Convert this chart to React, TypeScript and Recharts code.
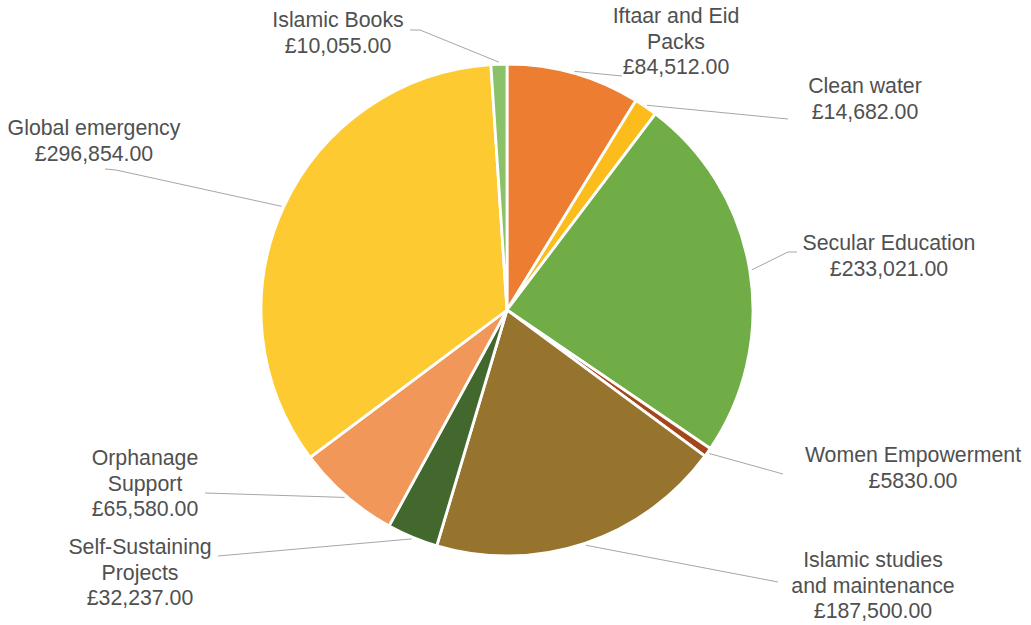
import React from 'react';
import { PieChart, Pie, Cell } from 'recharts';

// slices run clockwise from 12 o'clock
const categories = [
  'Iftaar and Eid\nPacks',
  'Clean water',
  'Secular Education',
  'Women Empowerment',
  'Islamic studies\nand maintenance',
  'Self-Sustaining\nProjects',
  'Orphanage\nSupport',
  'Global emergency',
  'Islamic Books',
];

// plotted amounts (global emergency slice is drawn larger than its printed label)
const amounts = [84512, 14682, 233021, 5830, 187500, 32237, 65580, 329000, 10055];

// amounts as printed on the chart
const amountLabels = [
  '£84,512.00',
  '£14,682.00',
  '£233,021.00',
  '£5830.00',
  '£187,500.00',
  '£32,237.00',
  '£65,580.00',
  '£296,854.00',
  '£10,055.00',
];

const colors = [
  '#ED7D31',
  '#FBBC1C',
  '#70AD47',
  '#A5461A',
  '#97742E',
  '#43682E',
  '#F1975A',
  '#FDCA31',
  '#8BC168',
];

// where each label sits and how its leader line bends (line starts at the slice edge)
const labelLayout = [
  { x: 676, y: 16, path: [[622, 76]] },
  { x: 865, y: 86, path: [[788, 119]] },
  { x: 889, y: 243, path: [[788, 252], [797, 252]] },
  { x: 913, y: 455, path: [[783, 474]] },
  { x: 873, y: 560, path: [[778, 582]] },
  { x: 140, y: 547, path: [[218, 556]] },
  { x: 145, y: 458, path: [[205, 493]] },
  { x: 94, y: 128, path: [[116, 170], [105, 169]] },
  { x: 338, y: 20, path: [[420, 30], [410, 30]] },
];

const data = categories.map((name, i) => ({ name, value: amounts[i], label: amountLabels[i] }));

const RAD = Math.PI / 180;
const LINE_H = 25.5;

const renderLabel = (props: any) => {
  const { cx, cy, midAngle, outerRadius, index } = props;
  const layout = labelLayout[index];
  const r = outerRadius + 2;
  const sx = cx + r * Math.cos(-midAngle * RAD);
  const sy = cy + r * Math.sin(-midAngle * RAD);
  const pts = [[sx, sy], ...layout.path];
  const lines = [...categories[index].split('\n'), amountLabels[index]];
  return (
    <g>
      <polyline
        points={pts.map((p) => p.join(',')).join(' ')}
        fill="none"
        stroke="#A6A6A6"
        strokeWidth={1}
      />
      <text
        x={layout.x}
        y={layout.y}
        textAnchor="middle"
        fill="#505050"
        fontSize={21.3}
        fontFamily="'Liberation Sans', Arial, sans-serif"
      >
        {lines.map((t, j) => (
          <tspan key={j} x={layout.x} y={layout.y + j * LINE_H} dominantBaseline="central">
            {t}
          </tspan>
        ))}
      </text>
    </g>
  );
};

export default function App() {
  return (
    <div style={{ position: 'absolute', left: 0, top: 0, width: 1031, height: 625, background: '#fff' }}>
      <PieChart width={1031} height={625} margin={{ top: 0, right: 0, bottom: 0, left: 0 }}>
        <Pie
          data={data}
          dataKey="value"
          nameKey="name"
          cx={507}
          cy={310}
          outerRadius={246}
          startAngle={90}
          endAngle={-270}
          stroke="#FFFFFF"
          strokeWidth={2.8}
          label={renderLabel}
          labelLine={false}
          isAnimationActive={false}
        >
          {data.map((d, i) => (
            <Cell key={d.name} fill={colors[i]} />
          ))}
        </Pie>
      </PieChart>
    </div>
  );
}
